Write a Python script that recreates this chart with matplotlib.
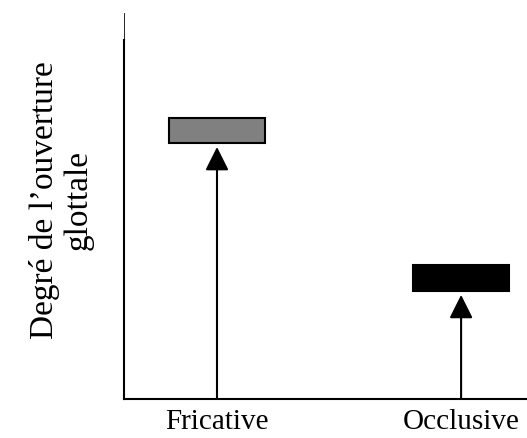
import matplotlib.pyplot as plt

# Données
categories = ['Fricative', 'Occlusive']
positions = [1, 2]
ouverture = [0.748, 0.337]     # centre du rectangle (échelle arbitraire)
epaisseur = [0.070, 0.072]     # hauteur du rectangle
couleurs = ['#808080', '#000000']

plt.rcParams['font.family'] = ['Liberation Serif', 'DejaVu Serif']

fig = plt.figure(figsize=(5.27, 4.38), dpi=100)
ax = fig.add_axes([124 / 527, 39 / 438, 403 / 527, 359 / 438])

bas = [o - e / 2 for o, e in zip(ouverture, epaisseur)]
ax.bar(positions, epaisseur, bottom=bas, width=0.393, color=couleurs,
       edgecolor='black', linewidth=1.5, zorder=3)

# flèches qui montent de l'axe jusqu'au rectangle
for x, b in zip(positions, bas):
    ax.annotate('', xy=(x, b - 0.011), xytext=(x, 0),
                arrowprops=dict(arrowstyle='-|>,head_length=1.44,head_width=0.72',
                                mutation_scale=10, lw=1.5, color='black',
                                shrinkA=0, shrinkB=0))

ax.set_xlim(0.619, 2.27)
ax.set_ylim(0, 1)

ax.set_xticks(positions)
ax.set_xticklabels(categories, fontsize=21)
ax.tick_params(axis='x', length=0, pad=7)
ax.set_yticks([])

ax.set_ylabel("Degré de l\u2019ouverture\nglottale", fontsize=24, linespacing=1.15)
ax.yaxis.set_label_coords(-0.075, 0.555)

for s in ['top', 'right']:
    ax.spines[s].set_visible(False)
for s in ['left', 'bottom']:
    ax.spines[s].set_linewidth(1.5)

# petit trait fin qui prolonge l'axe vertical vers le haut
ax.plot([0, 0], [1, 1.075], transform=ax.transAxes, clip_on=False,
        color='black', lw=0.6)

fig.savefig('out.png', dpi=100)
